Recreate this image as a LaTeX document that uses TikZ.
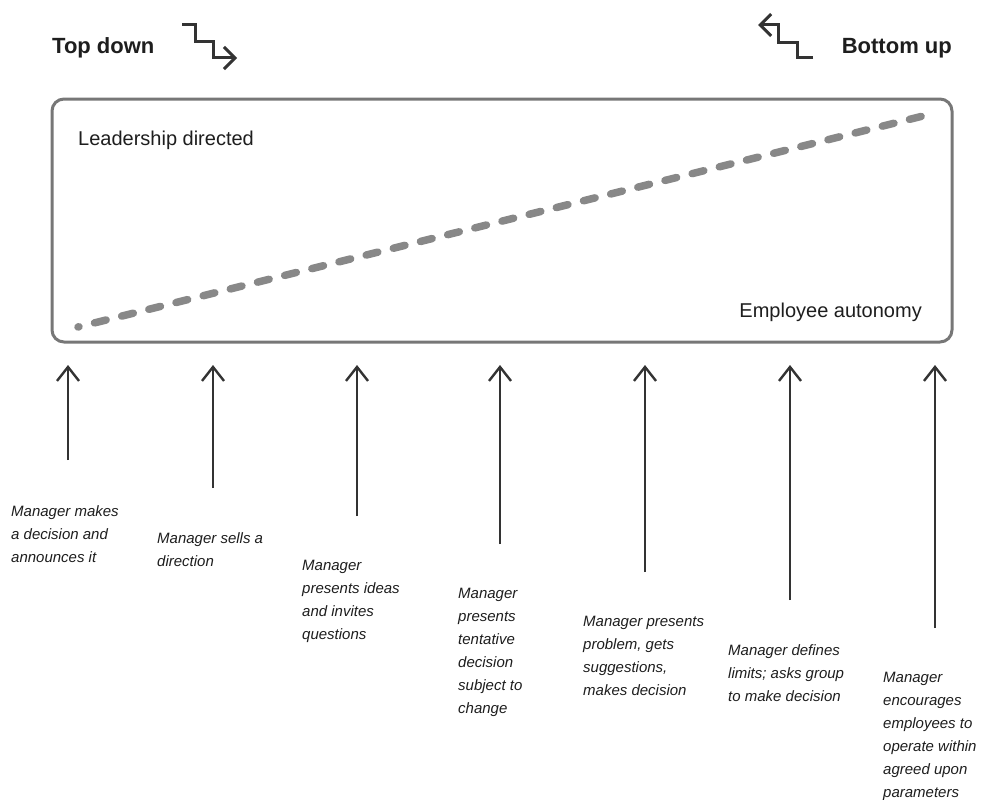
\documentclass[tikz,border=0pt]{standalone}
\usepackage{fontspec}
\setmainfont{Liberation Sans}
\usetikzlibrary{arrows.meta}
\definecolor{txt}{HTML}{1E1E1E}
\definecolor{arr}{HTML}{333333}
\definecolor{frm}{HTML}{777777}
\definecolor{dsh}{HTML}{888888}
\begin{document}
\begin{tikzpicture}[x=1pt,y=-1pt,
  lbl/.style={anchor=north west, inner sep=0pt, align=left, text=txt, font=\fontsize{15}{23}\selectfont\itshape},
  hdr/.style={anchor=base west, inner sep=0pt, text=txt, font=\fontsize{22}{26}\selectfont\bfseries},
  intext/.style={inner sep=0pt, text=txt, font=\fontsize{20}{24}\selectfont},
  uparrow/.style={draw=arr, line width=2.4pt, -{Straight Barb[length=14pt,width=22pt]}},
  icon/.style={draw=arr, line width=3pt, line join=miter, -{Straight Barb[length=11pt,width=22pt]}},
]
\useasboundingbox[fill=white] (0,0) rectangle (982,800);

% headers and icons
\node[hdr] (top) at (52,53) {Top down};
\node[hdr, anchor=base east] (bot) at (952,53) {Bottom up};
\draw[icon] (182,25) -- (195,25) -- (195,42) -- (213,42) -- (213,58) -- (237,58);
\draw[icon] (813,58) -- (797,58) -- (797,43) -- (778,43) -- (778,25) -- (758,25);

% frame
\node[draw=frm, line width=3pt, rounded corners=12pt, minimum width=900pt, minimum height=243pt, inner sep=0pt] (frame) at (502,220.5) {};
\coordinate (ds) at (78,327);
\coordinate (de) at (923,116);
\draw[dsh, line width=7.5pt, line cap=round, dash pattern=on 12pt off 16pt, dash phase=11pt] (ds) -- (de);
\node[intext, anchor=base west] (lead) at (78,145) {Leadership directed};
\node[intext, anchor=base east] (auto) at (922,317) {Employee autonomy};

% arrows
\foreach \i/\x/\yb in {1/68/460, 2/213/488, 3/357/516, 4/500/544, 5/645/572, 6/790/600, 7/935/628} {
  \coordinate (b\i) at (\x,\yb);
  \coordinate (t\i) at (\x,365);
  \draw[uparrow] (b\i) -- (t\i);
}

% labels
\node[lbl] (l1) at (11,505.3) {Manager makes\\a decision and\\announces it};
\node[lbl] (l2) at (157,532.3) {Manager sells a\\direction};
\node[lbl] (l3) at (302,560.3) {Manager\\presents ideas\\and invites\\questions};
\node[lbl] (l4) at (458,588.3) {Manager\\presents\\tentative\\decision\\subject to\\change};
\node[lbl] (l5) at (583,616.3) {Manager presents\\problem, gets\\suggestions,\\makes decision};
\node[lbl] (l6) at (728,644.3) {Manager defines\\limits; asks group\\to make decision};
\node[lbl] (l7) at (883,672.3) {Manager\\encourages\\employees to\\operate within\\agreed upon\\parameters};
\end{tikzpicture}
\end{document}
